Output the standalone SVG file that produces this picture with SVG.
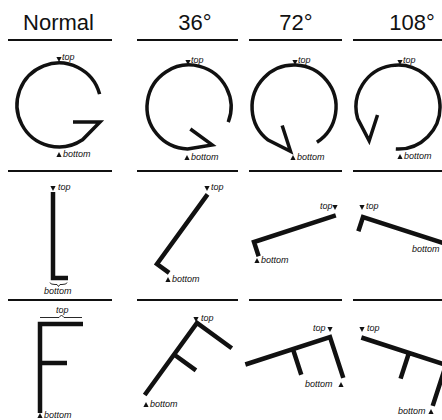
<svg xmlns="http://www.w3.org/2000/svg" xmlns:xlink="http://www.w3.org/1999/xlink" width="442" height="420" viewBox="0 0 442 420">
<style>
.hd{font-family:"Liberation Sans","DejaVu Sans",sans-serif;font-size:22px;fill:#111;text-anchor:middle}
.lb{font-family:"Liberation Sans","DejaVu Sans",sans-serif;font-size:9px;font-style:italic;fill:#111}
.rule{stroke:#111;stroke-width:2;fill:none}
.g{stroke:#111;stroke-width:3.5;fill:none;stroke-linejoin:miter}
.l{stroke:#111;stroke-width:4.5;fill:none;stroke-linejoin:miter}
.thin{stroke:#111;stroke-width:0.9;fill:none}
.tri{fill:#111}
</style>
<defs>
<path id="G" d="M14,17 L41,17 L23.5,34.8 A42,42 0 1 1 40.6,-10.9"/>
<path id="L" d="M0,-86 L0,0 L15,0"/>
<path id="F" d="M43,0 L0,0 L0,89 M0,39 L27,39"/>
<path id="dn" d="M-2.6,-5 L2.6,-5 L0,0 Z"/>
<path id="up" d="M-2.6,5 L2.6,5 L0,0 Z"/>
</defs>

<g id="headers">
<text class="hd" x="58.5" y="30">Normal</text>
<text class="hd" x="195" y="30">36°</text>
<text class="hd" x="296" y="30">72°</text>
<text class="hd" x="412" y="30">108°</text>
</g>

<g id="rules">
<path class="rule" d="M8,40 H112 M137,40 H238 M249,40 H342 M353,40 H442"/>
<path class="rule" d="M8,171 H112 M137,171 H238 M249,171 H342 M353,171 H442"/>
<path class="rule" d="M8,300 H112 M137,300 H238 M249,300 H342 M353,300 H442"/>
</g>

<g id="G-normal">
<use xlink:href="#G" class="g" transform="translate(59,105)"/>
<use xlink:href="#dn" class="tri" transform="translate(59,62)"/>
<text class="lb" x="62" y="60">top</text>
<use xlink:href="#up" class="tri" transform="translate(59,152)"/>
<text class="lb" x="63" y="157">bottom</text>
</g>
<g id="G-36">
<use xlink:href="#G" class="g" transform="translate(189,107) rotate(36)"/>
<use xlink:href="#dn" class="tri" transform="translate(188,65)"/>
<text class="lb" x="191" y="63">top</text>
<use xlink:href="#up" class="tri" transform="translate(187,155)"/>
<text class="lb" x="191" y="160">bottom</text>
</g>
<g id="G-72">
<use xlink:href="#G" class="g" transform="translate(294,107) rotate(72)"/>
<use xlink:href="#dn" class="tri" transform="translate(295,65)"/>
<text class="lb" x="298" y="63">top</text>
<use xlink:href="#up" class="tri" transform="translate(293,155)"/>
<text class="lb" x="297" y="160">bottom</text>
</g>
<g id="G-108">
<use xlink:href="#G" class="g" transform="translate(398,107) rotate(108)"/>
<use xlink:href="#dn" class="tri" transform="translate(400,65)"/>
<text class="lb" x="403" y="63">top</text>
<use xlink:href="#up" class="tri" transform="translate(400,154)"/>
<text class="lb" x="404" y="159">bottom</text>
</g>

<g id="L-normal">
<use xlink:href="#L" class="l" transform="translate(53,278)"/>
<use xlink:href="#dn" class="tri" transform="translate(53,191)"/>
<text class="lb" x="58" y="190">top</text>
<path class="thin" d="M50,282.5 Q50,284.5 55,284.5 L57,284.5 L58.5,286.5 L60,284.5 L62,284.5 Q67,284.5 67,282.5"/>
<text class="lb" x="44" y="294">bottom</text>
</g>
<g id="L-36">
<use xlink:href="#L" class="l" transform="translate(157,264) rotate(36)"/>
<use xlink:href="#dn" class="tri" transform="translate(207,191)"/>
<text class="lb" x="211" y="190">top</text>
<use xlink:href="#up" class="tri" transform="translate(168,277)"/>
<text class="lb" x="172" y="282">bottom</text>
</g>
<g id="L-72">
<use xlink:href="#L" class="l" transform="translate(254,242) rotate(72)"/>
<use xlink:href="#dn" class="tri" transform="translate(335,210)"/>
<text class="lb" x="320" y="209">top</text>
<use xlink:href="#up" class="tri" transform="translate(257,258)"/>
<text class="lb" x="261" y="263">bottom</text>
</g>
<g id="L-108">
<use xlink:href="#L" class="l" transform="translate(363,217) rotate(108)"/>
<use xlink:href="#dn" class="tri" transform="translate(362,210)"/>
<text class="lb" x="366" y="209">top</text>
<text class="lb" x="412" y="252">bottom</text>
</g>

<g id="F-normal">
<use xlink:href="#F" class="l" transform="translate(40,324)"/>
<path class="thin" d="M40,317.5 L59,317.5 L61.5,315 L64,317.5 L82,317.5"/>
<text class="lb" x="56" y="313">top</text>
<use xlink:href="#up" class="tri" transform="translate(40,413)"/>
<text class="lb" x="44" y="418">bottom</text>
</g>
<g id="F-36">
<use xlink:href="#F" class="l" transform="translate(197,323) rotate(36)"/>
<use xlink:href="#dn" class="tri" transform="translate(196,322)"/>
<text class="lb" x="201" y="321">top</text>
<use xlink:href="#up" class="tri" transform="translate(146,402)"/>
<text class="lb" x="150" y="407">bottom</text>
</g>
<g id="F-72">
<use xlink:href="#F" class="l" transform="translate(330,337) rotate(72)"/>
<use xlink:href="#dn" class="tri" transform="translate(330,332)"/>
<text class="lb" x="313" y="331">top</text>
<use xlink:href="#up" class="tri" transform="translate(341,382)"/>
<text class="lb" x="305" y="387">bottom</text>
</g>
<g id="F-108">
<use xlink:href="#F" class="l" transform="translate(446,365) rotate(108)"/>
<use xlink:href="#dn" class="tri" transform="translate(362,332)"/>
<text class="lb" x="367" y="331">top</text>
<use xlink:href="#up" class="tri" transform="translate(431,409)"/>
<text class="lb" x="398" y="414">bottom</text>
</g>
</svg>
